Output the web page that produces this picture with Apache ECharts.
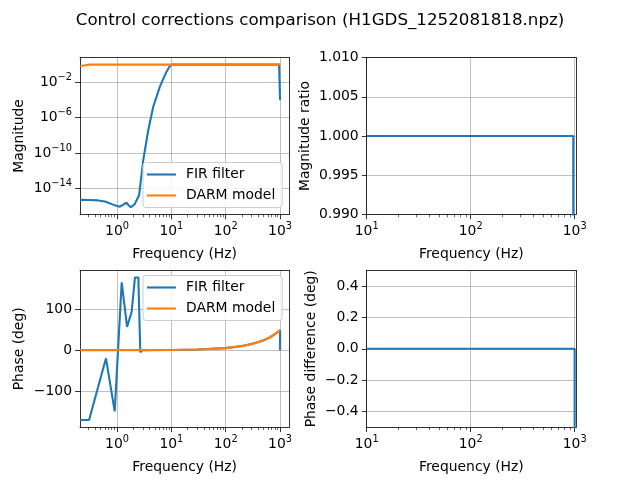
<!DOCTYPE html>
<html>
<head>
<meta charset="utf-8">
<script src="https://cdn.jsdelivr.net/npm/echarts@6/dist/echarts.min.js"></script>
<style>
html, body { margin: 0; padding: 0; background: #fff; }
#chart { width: 640px; height: 480px; }
</style>
</head>
<body>
<div id="chart"></div>
<script>
// FIR filter response
var firMagFreq = [0.21, 0.3, 0.45, 0.6, 0.8, 1.0, 1.13, 1.3, 1.5, 1.65, 1.8, 2.1, 2.55, 3.04, 3.76, 4.64, 6.15, 8.15, 9.4, 10.3, 100, 960, 1000];
var firMag = [4.8e-16, 4.7e-16, 4.2e-16, 3.2e-16, 1.6e-16, 1.0e-16, 8.3e-17, 1.4e-16, 2.3e-16, 1.1e-16, 7e-17, 1.5e-16, 1.6e-15, 1.6e-11, 4e-8, 1.7e-5, 3.2e-3, 0.16, 0.7, 1.0, 1.0, 1.0, 1e-4];
var firPhaseFreq = [0.21, 0.306, 0.627, 0.907, 1.22, 1.53, 1.86, 2.14, 2.47, 2.68, 2.9, 10, 30, 100, 200, 300, 400, 500, 600, 700, 800, 900, 1000, 1002];
var firPhase = [-171, -171, -20, -150, 166, 57, 94, 178, 178, -5, 0.1, 0.5, 1.5, 5, 10, 15, 20, 24, 29, 34, 39, 44, 49, 0];

// DARM model response
var darmMagFreq = [0.21, 0.3, 1, 10, 100, 1000];
var darmMag = [0.7, 1.0, 1.0, 1.0, 1.0, 1.0];
var darmPhaseFreq = [0.21, 1, 10, 30, 100, 200, 300, 400, 500, 600, 700, 800, 900, 1000];
var darmPhase = [0, 0.05, 0.5, 1.5, 5, 10, 15, 20, 24, 29, 34, 39, 44, 49];

// comparison panels
var ratioFreq = [10, 100, 970, 971];
var ratioVals = [1.0, 1.0, 1.0, 0.9];
var phaseDiffFreq = [10, 100, 1000, 1001];
var phaseDiffVals = [0.0, 0.0, 0.0, -5];

// tick values
var wideFreqTicks = [1, 10, 100, 1000];
var narrowFreqTicks = [10, 100, 1000];
var magTicks = [1e-14, 1e-10, 1e-6, 1e-2];
var phaseTicks = [-100, 0, 100];
var phaseDiffTicks = [-0.4, -0.2, 0.0, 0.2, 0.4];

var BLUE = '#1f77b4', ORANGE = '#ff7f0e';
var FONT = 'DejaVu Sans';
var FS = 13.9;

function zip(xs, ys) {
  return xs.map(function (x, i) { return [x, ys[i]]; });
}

// minor ticks at 2..9 x 10^n inside [lo, hi]
function minorLogTicks(lo, hi) {
  var out = [];
  for (var e = -2; e <= 4; e++) {
    for (var k = 2; k <= 9; k++) {
      var v = k * Math.pow(10, e);
      if (v > lo && v < hi) out.push(+v.toPrecision(3));
    }
  }
  return out;
}

function minus(s) { return String(s).replace('-', '\u2212'); }
// 10^n with a raised exponent
function powLabel(v) {
  var e = Math.round(Math.log10(v));
  return '{b|10}{s|' + minus(e) + '}';
}
var powRich = {
  b: { fontFamily: FONT, fontSize: FS, color: '#000', lineHeight: 20 },
  s: { fontFamily: FONT, fontSize: 9.8, color: '#000', lineHeight: 9, verticalAlign: 'top' }
};

var grids = [
  { left: 80, top: 57.6, width: 209.3, height: 156.8 },
  { left: 366.7, top: 57.6, width: 209.3, height: 156.8 },
  { left: 80, top: 270.4, width: 209.3, height: 156.8 },
  { left: 366.7, top: 270.4, width: 209.3, height: 156.8 }
];

var xRanges = [[0.2084, 1480], [10, 1030], [0.2084, 1480], [10, 1030]];
var xTicks = [wideFreqTicks, narrowFreqTicks, wideFreqTicks, narrowFreqTicks];

var axisLine = { show: true, onZero: false, lineStyle: { color: '#000', width: 0.8 } };
var splitLine = { show: true, lineStyle: { color: '#b0b0b0', width: 0.8 } };
var labelStyle = { color: '#000', fontFamily: FONT, fontSize: FS };
var nameStyle = { color: '#000', fontFamily: FONT, fontSize: FS };

var xAxes = [];
xRanges.forEach(function (r, i) {
  xAxes.push({
    type: 'log', logBase: 10, gridIndex: i, position: 'bottom',
    min: r[0], max: r[1],
    name: 'Frequency (Hz)', nameLocation: 'middle', nameGap: 33, nameTextStyle: nameStyle,
    axisLine: axisLine,
    axisTick: { show: true, inside: false, length: 4.9, customValues: xTicks[i], lineStyle: { color: '#000', width: 0.8 } },
    axisLabel: Object.assign({ margin: 7, customValues: xTicks[i], formatter: powLabel, rich: powRich }, labelStyle),
    splitLine: splitLine
  });
});
// overlay axes that only carry the minor ticks
xRanges.forEach(function (r, i) {
  xAxes.push({
    type: 'log', logBase: 10, gridIndex: i, position: 'bottom',
    min: r[0], max: r[1],
    axisLine: { show: false, onZero: false },
    axisTick: { show: true, inside: false, length: 2.8, customValues: minorLogTicks(r[0], r[1]), lineStyle: { color: '#000', width: 0.6 } },
    axisLabel: { show: false },
    splitLine: { show: false }
  });
});

var yAxes = [
  {
    type: 'log', logBase: 10, gridIndex: 0,
    min: Math.pow(10, -16.96), max: Math.pow(10, 0.8),
    name: 'Magnitude', nameLocation: 'middle', nameGap: 54, nameTextStyle: nameStyle,
    axisLine: axisLine,
    axisTick: { show: true, length: 4.9, customValues: magTicks, lineStyle: { color: '#000', width: 0.8 } },
    axisLabel: Object.assign({ margin: 8, customValues: magTicks, formatter: powLabel, rich: powRich }, labelStyle),
    splitLine: splitLine
  },
  {
    type: 'value', gridIndex: 1, min: 0.99, max: 1.01, interval: 0.005,
    name: 'Magnitude ratio', nameLocation: 'middle', nameGap: 54, nameTextStyle: nameStyle,
    axisLine: axisLine,
    axisTick: { show: true, length: 4.9, lineStyle: { color: '#000', width: 0.8 } },
    axisLabel: Object.assign({ margin: 8, formatter: function (v) { return v.toFixed(3); } }, labelStyle),
    splitLine: splitLine
  },
  {
    type: 'value', gridIndex: 2, min: -188.6, max: 195.2,
    name: 'Phase (deg)', nameLocation: 'middle', nameGap: 54, nameTextStyle: nameStyle,
    axisLine: axisLine,
    axisTick: { show: true, length: 4.9, customValues: phaseTicks, lineStyle: { color: '#000', width: 0.8 } },
    axisLabel: Object.assign({ margin: 8, customValues: phaseTicks, formatter: function (v) { return minus(Math.round(v)); } }, labelStyle),
    splitLine: splitLine
  },
  {
    type: 'value', gridIndex: 3, min: -0.5, max: 0.5,
    name: 'Phase difference (deg)', nameLocation: 'middle', nameGap: 48, nameTextStyle: nameStyle,
    axisLine: axisLine,
    axisTick: { show: true, length: 4.9, customValues: phaseDiffTicks, lineStyle: { color: '#000', width: 0.8 } },
    axisLabel: Object.assign({ margin: 8, customValues: phaseDiffTicks, formatter: function (v) { return minus(v.toFixed(1)); } }, labelStyle),
    splitLine: splitLine
  }
];
// right/top frame lines
[0, 1, 2, 3].forEach(function (i) {
  xAxes.push({ type: 'value', gridIndex: i, position: 'top', min: 0, max: 1, axisLine: axisLine, axisTick: { show: false }, axisLabel: { show: false }, splitLine: { show: false } });
  yAxes.push({ type: 'value', gridIndex: i, position: 'right', min: 0, max: 1, axisLine: axisLine, axisTick: { show: false }, axisLabel: { show: false }, splitLine: { show: false } });
});

function lineSeries(name, data, color, idx) {
  return {
    type: 'line', name: name, data: data, xAxisIndex: idx, yAxisIndex: idx,
    symbol: 'none', smooth: false, clip: true, animation: false,
    lineStyle: { color: color, width: 2.1 }, itemStyle: { color: color }
  };
}

var legendBase = {
  orient: 'vertical', left: 143, icon: 'rect', itemWidth: 29, itemHeight: 2.1, itemGap: 5,
  padding: [4, 7, 4, 4],
  backgroundColor: 'rgba(255,255,255,0.8)', borderColor: '#cccccc', borderWidth: 1, borderRadius: 3,
  textStyle: { color: '#000', fontFamily: FONT, fontSize: FS, lineHeight: 16, padding: [0, 0, 0, 5] },
  data: ['FIR filter', 'DARM model']
};

var option = {
  animation: false,
  backgroundColor: '#fff',
  title: {
    text: 'Control corrections comparison (H1GDS_1252081818.npz)',
    left: 'center', top: 7,
    textStyle: { color: '#000', fontFamily: FONT, fontSize: 16.7, fontWeight: 'normal' }
  },
  legend: [
    Object.assign({ top: 162.5 }, legendBase),
    Object.assign({ top: 275.5 }, legendBase)
  ],
  grid: grids,
  xAxis: xAxes,
  yAxis: yAxes,
  series: [
    lineSeries('FIR filter', zip(firMagFreq, firMag), BLUE, 0),
    lineSeries('DARM model', zip(darmMagFreq, darmMag), ORANGE, 0),
    lineSeries('ratio', zip(ratioFreq, ratioVals), BLUE, 1),
    lineSeries('FIR filter', zip(firPhaseFreq, firPhase), BLUE, 2),
    lineSeries('DARM model', zip(darmPhaseFreq, darmPhase), ORANGE, 2),
    lineSeries('phase difference', zip(phaseDiffFreq, phaseDiffVals), BLUE, 3)
  ]
};

var chart = echarts.init(document.getElementById('chart'), null, { renderer: 'canvas' });
chart.setOption(option);
</script>
</body>
</html>
